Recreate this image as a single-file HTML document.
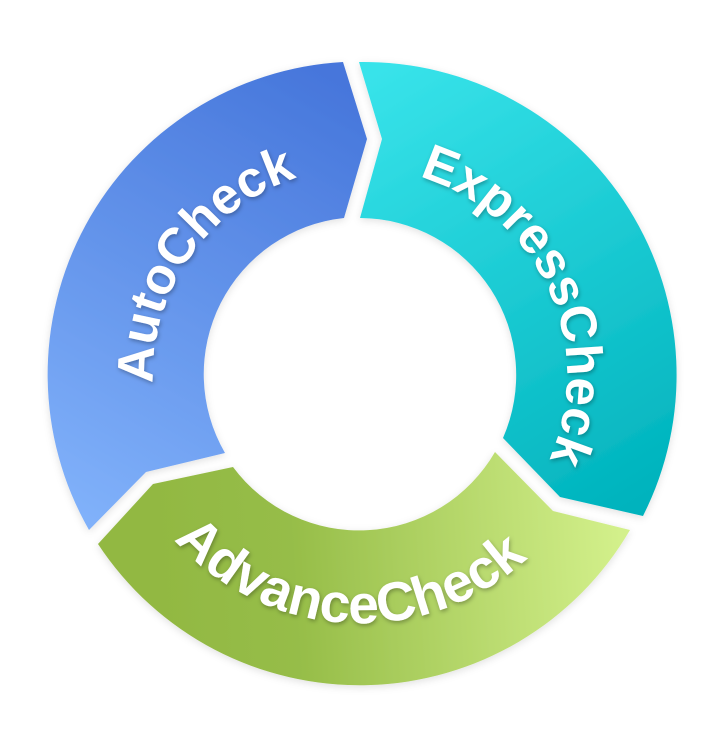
<!DOCTYPE html>
<html><head><meta charset="utf-8"><style>
html,body{margin:0;padding:0;background:#fff;width:721px;height:734px;overflow:hidden}
svg{display:block}
text{font-family:"Liberation Sans",sans-serif;font-weight:bold;font-size:55px;fill:#fff}
</style></head><body>
<svg width="721" height="734" viewBox="0 0 721 734">
<defs>
<linearGradient id="ga" gradientUnits="userSpaceOnUse" x1="340" y1="80" x2="90" y2="520"><stop offset="0" stop-color="#4676db"/><stop offset="1" stop-color="#80b1fa"/></linearGradient>
<linearGradient id="ge" gradientUnits="userSpaceOnUse" x1="380" y1="70" x2="640" y2="500"><stop offset="0" stop-color="#38e3ea"/><stop offset="1" stop-color="#00b3bd"/></linearGradient>
<linearGradient id="gv" gradientUnits="userSpaceOnUse" x1="150" y1="560" x2="620" y2="530"><stop offset="0" stop-color="#92b842"/><stop offset="0.3" stop-color="#96bd48"/><stop offset="1" stop-color="#d3f08b"/></linearGradient>
<filter id="ts" x="-20%" y="-20%" width="140%" height="140%"><feDropShadow dx="1" dy="2" stdDeviation="2" flood-color="#000" flood-opacity="0.3"/></filter>
<filter id="rs" x="-10%" y="-10%" width="120%" height="120%"><feDropShadow dx="0" dy="2" stdDeviation="4" flood-color="#000" flood-opacity="0.12"/></filter>
<path id="pa" d="M172.4,462.5 A207 207 0 0 1 378,168.8"/>
<path id="pe" d="M378,168.8 A207 207 0 0 1 528.4,495.4"/>
<path id="pv" d="M122.8,447.5 A248 248 0 0 0 588.4,472"/>
</defs>
<g filter="url(#rs)">
<path fill="url(#ga)" d="M89,530 L146,472 L225,453 A157 157 0 0 1 344,218 L367,139 L343,62 A313 313 0 0 0 89,530 Z"/>
<path fill="url(#ge)" d="M359,62 L382,139 L360,218 A157 157 0 0 1 503,438 L560,497 L643,516 A313 313 0 0 0 359,62 Z"/>
<path fill="url(#gv)" d="M495,452 L553,511 L630,530 A313 313 0 0 1 98,544 L153,484 L233,467 A157 157 0 0 0 495,452 Z"/>
</g>
<g filter="url(#ts)">
<text style="font-size:51px"><textPath href="#pa" startOffset="50%" text-anchor="middle">AutoCheck</textPath></text>
<text style="font-size:51px"><textPath href="#pe" startOffset="50%" text-anchor="middle">ExpressCheck</textPath></text>
<text><textPath href="#pv" startOffset="50%" text-anchor="middle">AdvanceCheck</textPath></text>
</g>
</svg>
</body></html>
